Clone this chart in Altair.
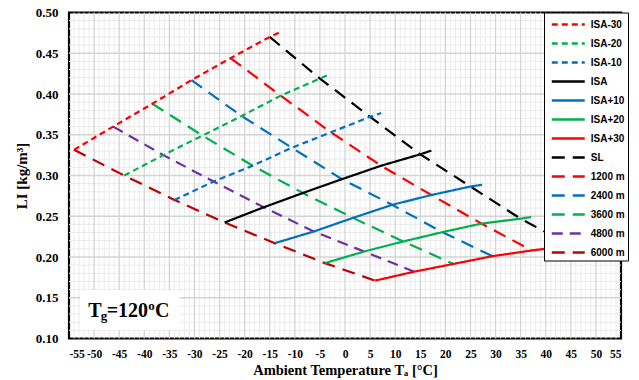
import altair as alt
import pandas as pd

# ---------------- data ----------------
ISA_SERIES = ["ISA-30", "ISA-20", "ISA-10", "ISA", "ISA+10", "ISA+20", "ISA+30"]
ALTITUDE_SERIES = ["SL", "1200 m", "2400 m", "3600 m", "4800 m", "6000 m"]

# ambient temperature of each grid point (columns: ISA-30 ... ISA+30)
T_SL = [-15, -5, 5, 15, 25, 35, 45]
T_1200 = [-22.8, -12.8, -2.8, 7.2, 17.2, 27.2, 37.2]
T_2400 = [-30.6, -20.6, -10.6, -0.6, 9.4, 19.4, 29.4]
T_3600 = [-38.4, -28.4, -18.4, -8.4, 1.6, 11.6, 21.6]
T_4800 = [-46.2, -36.2, -26.2, -16.2, -6.2, 3.8, 13.8]
T_6000 = [-54, -44, -34, -24, -14, -4, 6]

# LI [kg/m3] of each grid point
LI_SL = [0.470, 0.419, 0.372, 0.326, 0.2865, 0.247, 0.214]
LI_1200 = [0.444, 0.398, 0.353, 0.312, 0.276, 0.241, 0.208]
LI_2400 = [0.417, 0.373, 0.334, 0.2955, 0.264, 0.2305, 0.201]
LI_3600 = [0.388, 0.349, 0.312, 0.2785, 0.248, 0.219, 0.1915]
LI_4800 = [0.360, 0.325, 0.2926, 0.261, 0.2313, 0.2067, 0.182]
LI_6000 = [0.3315, 0.300, 0.270, 0.2423, 0.217, 0.1925, 0.171]

# the ISA lines run slightly past sea level
ISA_END_T = [-12.9, -2.9, 7.2, 17.2, 27.3, 37.1, 47.0]
ISA_END_LI = [0.476, 0.4248, 0.3766, 0.3305, 0.2886, 0.249, 0.215]

ALT_T = [T_SL, T_1200, T_2400, T_3600, T_4800, T_6000]
ALT_LI = [LI_SL, LI_1200, LI_2400, LI_3600, LI_4800, LI_6000]

SERIES_ORDER = ISA_SERIES + ALTITUDE_SERIES
SERIES_COLORS = ["#FF0000", "#00B050", "#0070C0", "#000000", "#0070C0", "#00B050", "#FF0000",
                 "#000000", "#FF0000", "#0070C0", "#00B050", "#7030A0", "#C00000"]
SHORT = [6, 4]
SOLID = [1, 0]
LONG = [13, 8]
SERIES_DASH = [SHORT, SHORT, SHORT, SOLID, SOLID, SOLID, SOLID,
               LONG, LONG, LONG, LONG, [11, 7], LONG]

X_TICKS = list(range(-55, 56, 5))
Y_TICKS = [0.10, 0.15, 0.20, 0.25, 0.30, 0.35, 0.40, 0.45, 0.50]
MINOR_X = [v for v in range(-55, 56) if v % 5 != 0]
MINOR_Y = [round(0.10 + 0.01 * i, 2) for i in range(41) if i % 5 != 0]

ANNOT = {"T": -51.15, "LI": 0.1267}
ANNOT_BOX = {"T": -52.8, "T2": -32.9, "LI": 0.1595, "LI2": 0.1104}

# ---------------- build table ----------------
rows = []
for name, ts, lis in zip(ALTITUDE_SERIES, ALT_T, ALT_LI):
    for t, v in zip(ts, lis):
        rows.append({"series": name, "T": t, "LI": v})
for j, name in enumerate(ISA_SERIES):
    for ts, lis in zip(ALT_T, ALT_LI):
        rows.append({"series": name, "T": ts[j], "LI": lis[j]})
    rows.append({"series": name, "T": ISA_END_T[j], "LI": ISA_END_LI[j]})
df = pd.DataFrame(rows)

SERIF = "Liberation Serif"
XS = alt.Scale(domain=[-55, 55], nice=False, zero=False)
YS = alt.Scale(domain=[0.10, 0.50], nice=False, zero=False)
XA = alt.Axis(
    values=X_TICKS, grid=False, ticks=False, domain=False,
    labelExpr="datum.value + ''", labelFont=SERIF, labelFontWeight="bold",
    labelFontSize=11.5, labelColor="black", labelPadding=10, labelOverlap=False,
    title="Ambient Temperature Tₐ [°C]", titleFont=SERIF, titleFontWeight="bold",
    titleFontSize=14.5, titleColor="black", titlePadding=3)
YA = alt.Axis(
    values=Y_TICKS, format=".2f", grid=False, ticks=False, domain=False,
    labelFont=SERIF, labelFontWeight="bold", labelFontSize=13, labelColor="black",
    labelPadding=11, title="LI [kg/m³]", titleFont=SERIF, titleFontWeight="bold",
    titleFontSize=15, titleColor="black", titlePadding=6)


def X(field="T:Q"):
    return alt.X(field, scale=XS, axis=XA)


def Y(field="LI:Q"):
    return alt.Y(field, scale=YS, axis=YA)


minor_v = alt.Chart(pd.DataFrame({"T": MINOR_X})).mark_rule(color="#ebebeb", strokeWidth=1).encode(x=X())
minor_h = alt.Chart(pd.DataFrame({"LI": MINOR_Y})).mark_rule(color="#ebebeb", strokeWidth=1).encode(y=Y())
major_v = alt.Chart(pd.DataFrame({"T": X_TICKS[1:-1]})).mark_rule(color="#d4d4d4", strokeWidth=1.3).encode(x=X())
major_h = alt.Chart(pd.DataFrame({"LI": Y_TICKS[1:-1]})).mark_rule(color="#d4d4d4", strokeWidth=1.3).encode(y=Y())

lines = alt.Chart(df).mark_line(strokeWidth=2.2, clip=True).encode(
    x=X(), y=Y(),
    color=alt.Color("series:N", scale=alt.Scale(domain=SERIES_ORDER, range=SERIES_COLORS),
                    legend=alt.Legend(
                        title=None, orient="none", legendX=475, legendY=0,
                        fillColor="white", strokeColor="black", padding=2.5,
                        symbolType="M-2,0H2", symbolSize=272, symbolStrokeWidth=2.5,
                        symbolOffset=12.25, labelOffset=13, rowPadding=4,
                        labelFont="Liberation Sans", labelFontSize=10,
                        labelFontWeight="bold", labelColor="black", labelLimit=40)),
    strokeDash=alt.StrokeDash("series:N", scale=alt.Scale(domain=SERIES_ORDER, range=SERIES_DASH),
                              legend=None),
    detail="series:N",
)

box = alt.Chart(pd.DataFrame([ANNOT_BOX])).mark_rect(color="white").encode(
    x=X(), x2="T2:Q", y=Y(), y2="LI2:Q")

annot_df = pd.DataFrame([ANNOT])


def piece(text, size, dx, dy=0):
    return alt.Chart(annot_df).mark_text(
        text=text, align="left", baseline="alphabetic", font=SERIF, fontWeight="bold",
        fontSize=size, dx=dx, dy=dy, color="black").encode(x=X(), y=Y())


annot = piece("T", 20, 0) + piece("g", 13, 12.4, 3) + piece("=120", 20, 18.4) + \
    piece("o", 13, 60, -6.5) + piece("C", 20, 66.7)

chart = alt.layer(minor_v, minor_h, major_v, major_h, lines, box, annot).properties(
    width=552, height=326,
    autosize=alt.AutoSizeParams(type="none"),
    padding={"left": 69, "top": 12.5, "right": 18, "bottom": 41.5},
    background="white",
).configure_view(stroke="black", strokeWidth=2.2)

chart.save("out.html", embed_options={"renderer": "svg", "actions": False})
